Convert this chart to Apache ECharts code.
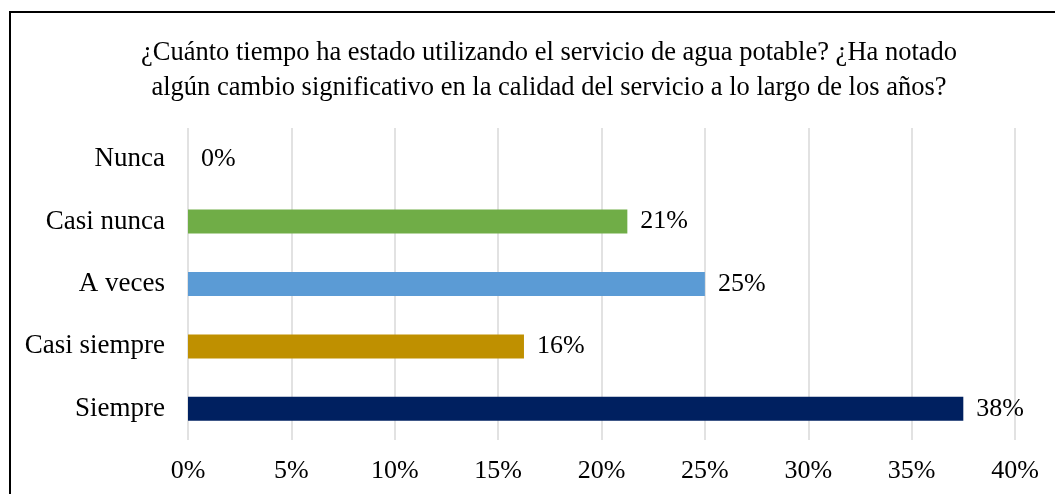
<!DOCTYPE html>
<html>
<head>
<meta charset="utf-8">
<script src="https://cdn.jsdelivr.net/npm/echarts@6/dist/echarts.min.js"></script>
<style>html,body{margin:0;padding:0;background:#fff;}#c{width:1055px;height:494px;}</style>
</head>
<body>
<div id="c"></div>
<script>
const titleLines = ["¿Cuánto tiempo ha estado utilizando el servicio de agua potable? ¿Ha notado", "algún cambio significativo en la calidad del servicio a lo largo de los años?"];
const categories = ["Siempre", "Casi siempre", "A veces", "Casi nunca", "Nunca"];
const values = [37.5, 16.25, 25, 21.25, 0];
const colors = ["#002060", "#BF9000", "#5B9BD5", "#70AD47", "#A5A5A5"];
const tickValues = [0, 5, 10, 15, 20, 25, 30, 35, 40];

const FONT = "'Liberation Serif', 'Times New Roman', serif";
const chart = echarts.init(document.getElementById('c'), null, {renderer: 'canvas'});
chart.setOption({
  animation: false,
  graphic: [{
    type: 'rect',
    shape: {x: 10, y: 12, width: 1100, height: 600},
    style: {fill: 'none', stroke: '#000', lineWidth: 2},
    silent: true, z: -1
  }],
  title: {
    text: titleLines.join('\n'),
    left: 544, textAlign: 'center', top: 31,
    textStyle: {fontFamily: FONT, fontSize: 26.5, fontWeight: 'normal', color: '#000', lineHeight: 35}
  },
  grid: {left: 188, top: 128, width: 827, height: 312, containLabel: false},
  xAxis: {
    type: 'value', min: 0, max: 40, interval: 5,
    axisLine: {show: false}, axisTick: {show: false},
    splitLine: {show: true, lineStyle: {color: '#d9d9d9', width: 1.5}},
    axisLabel: {fontFamily: FONT, fontSize: 26, color: '#000', margin: 18,
      formatter: v => tickValues.includes(v) ? v + '%' : ''}
  },
  yAxis: {
    type: 'category', data: categories,
    axisLine: {show: false}, axisTick: {show: false},
    axisLabel: {fontFamily: FONT, fontSize: 27, color: '#000', margin: 23}
  },
  series: [{
    type: 'bar', barWidth: 24,
    data: values.map((v, i) => ({value: v, itemStyle: {color: colors[i]}})),
    label: {show: true, position: 'right', distance: 13, fontFamily: FONT, fontSize: 26, color: '#000',
      formatter: p => Math.round(p.value) + '%'}
  }]
});
</script>
</body>
</html>
